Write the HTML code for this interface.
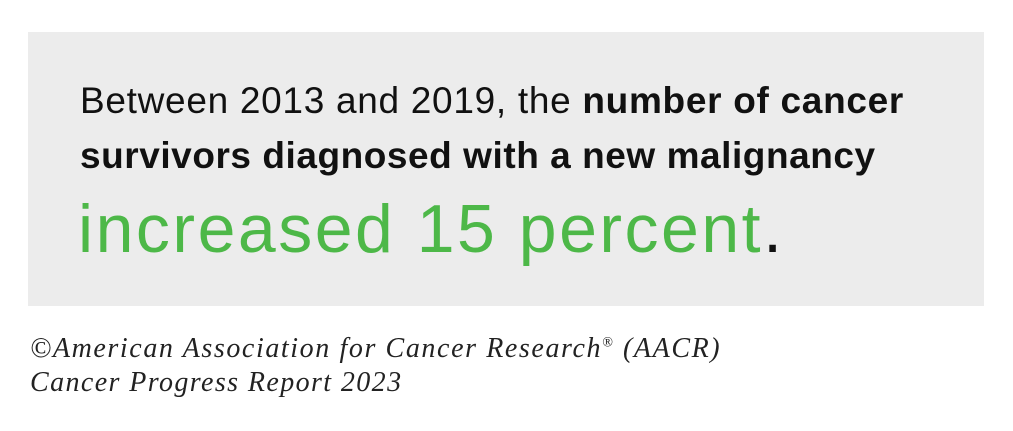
<!DOCTYPE html>
<html><head><meta charset="utf-8"><style>
body{margin:0;width:1013px;height:431px;background:#fff;overflow:hidden;position:relative;font-family:"Liberation Sans",sans-serif}
.box{position:absolute;left:28px;top:32px;width:956px;height:274px;background:#ececec}
.l{position:absolute;left:80px;white-space:nowrap;color:#111;font-size:37px}
b{font-weight:bold}
.g{position:absolute;left:78px;top:190px;color:#4db848;font-size:68px;white-space:nowrap;letter-spacing:2.5px}
.g span{color:#111;letter-spacing:0}
.f{position:absolute;left:30px;font-family:"Liberation Serif",serif;font-style:italic;font-size:28px;color:#222;white-space:nowrap;letter-spacing:1.6px}
</style></head><body>
<div class="box"></div>
<div class="l" style="top:80px;letter-spacing:0.7px">Between 2013 and 2019, the <b>number of cancer</b></div>
<div class="l" style="top:135px;letter-spacing:0.55px"><b>survivors diagnosed with a new malignancy</b></div>
<div class="g">increased 15 percent<span>.</span></div>
<div class="f" style="top:333px">©American Association for Cancer Research<sup style="font-size:14px">®</sup> (AACR)</div>
<div class="f" style="top:367px;letter-spacing:1.4px">Cancer Progress Report 2023</div>
</body></html>
